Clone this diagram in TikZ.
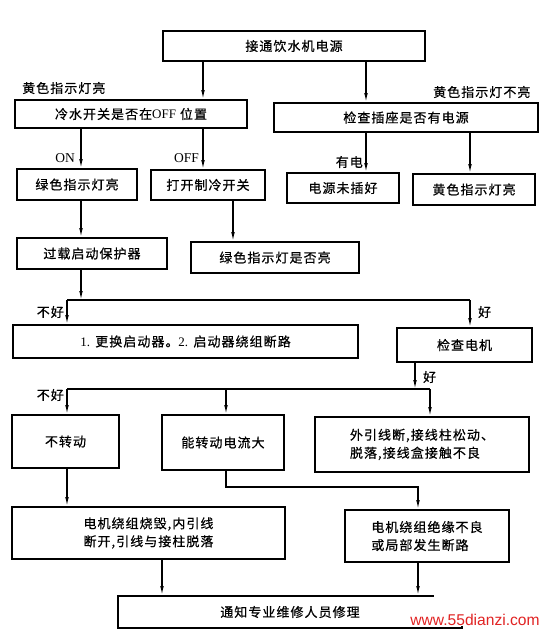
\documentclass[tikz,border=0pt]{standalone}
\usepackage{fontspec}
\setmainfont{Liberation Serif}
\newfontfamily\cjk[LetterSpace=8,FakeBold=0.6]{Noto Sans CJK SC}
\newfontfamily\wmfont{Liberation Sans}
\usetikzlibrary{arrows.meta}
\definecolor{wmred}{RGB}{225,35,35}
\newcommand\bx[6]{\node[box, minimum width={#4-#2}, minimum height={#5-#3}] (#1) at ({(#2+#4)/2},{(#3+#5)/2}) {#6};}
\begin{document}
\begin{tikzpicture}[x=1pt,y=-1pt,
  box/.style={draw, line width=1.8pt, inner sep=0pt, align=left, font=\cjk\fontsize{13}{18}\selectfont},
  lbl/.style={inner sep=0pt, font=\cjk\fontsize{13}{18}\selectfont},
  lat/.style={inner sep=0pt, font=\rmfamily\fontsize{13.5}{15}\selectfont},
  conn/.style={line width=1.2pt},
  arr/.style={line width=1.2pt, -{Latex[length=9pt,width=3.6pt]}},
  wm/.style={inner sep=0pt, text=wmred, font=\wmfont\fontsize{15.6}{18}\selectfont}]
\useasboundingbox (0,0) rectangle (545,632);
% boxes
\bx{b1}{163}{31}{425}{61}{接通饮水机电源}
\bx{b2}{15}{100}{247}{128}{冷水开关是否在{\rmfamily OFF} 位置}
\bx{b3}{274}{103}{538}{132}{检查插座是否有电源}
\bx{b4}{17}{169}{137}{200}{绿色指示灯亮}
\bx{b5}{151}{170}{265}{200}{打开制冷开关}
\bx{b6}{287}{173}{399}{203}{电源未插好}
\bx{b7}{413}{174}{535}{205}{黄色指示灯亮}
\bx{b8}{17}{238}{167}{269}{过载启动保护器}
\bx{b9}{191}{242}{359}{273}{绿色指示灯是否亮}
\bx{b10}{13}{325}{358}{358}{{\rmfamily 1.} 更换启动器。{\rmfamily 2.} 启动器绕组断路}
\bx{b11}{397}{328}{532}{362}{检查电机}
\bx{b12}{12}{415}{119}{468}{不转动}
\bx{b13}{162}{415}{284}{470}{能转动电流大}
\bx{b14}{315}{417}{529}{472}{外引线断,接线柱松动、\\脱落,接线盒接触不良}
\bx{b15}{12}{507}{285}{559}{电机绕组烧毁,内引线\\断开,引线与接柱脱落}
\bx{b16}{345}{510}{509}{562}{电机绕组绝缘不良\\或局部发生断路}
\bx{b17}{118}{596}{462}{628}{通知专业维修人员修理}
% x positions
\coordinate (xa) at (81,0);
\coordinate (xb) at (203,0);
\coordinate (xc) at (366,0);
\coordinate (xd) at (470,0);
\coordinate (xe) at (233,0);
\coordinate (xf) at (67,0);
\coordinate (xg) at (415,0);
\coordinate (xh) at (430,0);
\coordinate (xi) at (226,0);
\coordinate (xj) at (418,0);
\coordinate (xk) at (162,0);
% junctions
\coordinate (j1) at (81,300);
\coordinate (h1l) at (67,300);
\coordinate (h1r) at (470,300);
\coordinate (j2) at (415,389);
\coordinate (h2l) at (67,389);
\coordinate (h2r) at (430,389);
\coordinate (k1) at (226,487);
\coordinate (k2) at (418,487);
% connectors
\draw[arr] (b1.south -| xb) -- (b2.north -| xb);
\draw[arr] (b1.south -| xc) -- (b3.north -| xc);
\draw[arr] (b2.south -| xa) -- (b4.north -| xa);
\draw[arr] (b2.south -| xb) -- (b5.north -| xb);
\draw[arr] (b3.south -| xc) -- (b6.north -| xc);
\draw[arr] (b3.south -| xd) -- (b7.north -| xd);
\draw[arr] (b4.south -| xa) -- (b8.north -| xa);
\draw[arr] (b5.south -| xe) -- (b9.north -| xe);
\draw[arr] (b8.south -| xa) -- (j1);
\draw[conn] (h1l) -- (h1r);
\draw[arr] (h1l) -- (b10.north -| xf);
\draw[arr] (h1r) -- (b11.north -| xd);
\draw[arr] (b11.south -| xg) -- (j2);
\draw[conn] (h2l) -- (h2r);
\draw[arr] (h2l) -- (b12.north -| xf);
\draw[arr] (b13.north -| xi) ++(0,-26) -- (b13.north -| xi);
\draw[arr] (h2r) -- (b14.north -| xh);
\draw[arr] (b12.south -| xf) -- (b15.north -| xf);
\draw[arr] (b13.south -| xi) -- (k1) -- (k2) -- (b16.north -| xj);
\draw[arr] (b15.south -| xk) -- (b17.north -| xk);
\draw[arr] (b16.south -| xj) -- (b17.north -| xj);
% labels
\node[lbl, anchor=west] (l1) at (22,88) {黄色指示灯亮};
\node[lbl, anchor=west] (l2) at (433,92) {黄色指示灯不亮};
\node[lat, anchor=east] (l3) at (75,158) {ON};
\node[lat, anchor=east] (l4) at (199,158) {OFF};
\node[lbl, anchor=east] (l5) at (363,162) {有电};
\node[lbl, anchor=east] (l6) at (64,312) {不好};
\node[lbl, anchor=west] (l7) at (478,312) {好};
\node[lbl, anchor=west] (l8) at (423,377) {好};
\node[lbl, anchor=east] (l9) at (64,395) {不好};
% watermark
\fill[white] (434,590) rectangle (545,626);
\node[wm] (wmk) at (475,620) {www.55dianzi.com};
\end{tikzpicture}
\end{document}
